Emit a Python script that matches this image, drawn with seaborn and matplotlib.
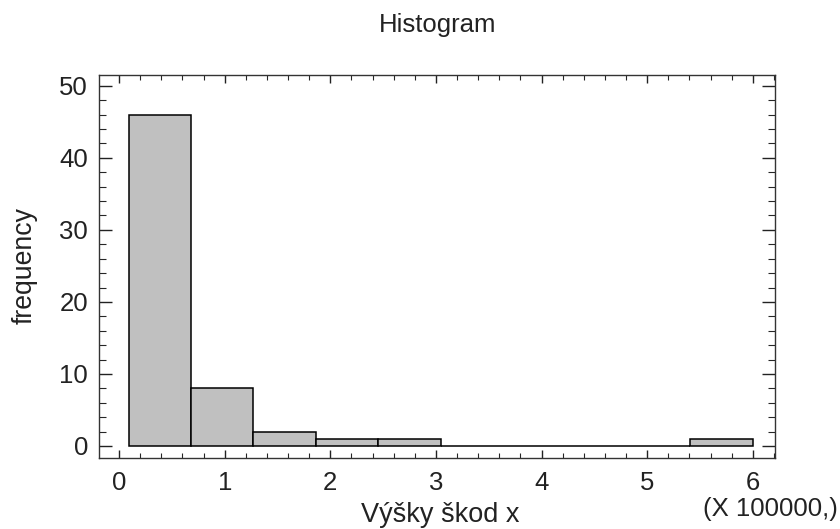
import matplotlib
matplotlib.use("Agg")
import matplotlib.pyplot as plt
from matplotlib.ticker import MultipleLocator
import numpy as np
import seaborn as sns

# Damage amounts, in units of 100000
bin_edges = [0.09, 0.681, 1.272, 1.863, 2.454, 3.045, 3.636, 4.227, 4.818, 5.409, 6.0]
counts = [46, 8, 2, 1, 1, 0, 0, 0, 0, 1]
x_ticks = [0, 1, 2, 3, 4, 5, 6]
y_ticks = [0, 10, 20, 30, 40, 50]

title = "Histogram"
x_label = "Výšky škod x"
y_label = "frequency"
scale_note = "(X 100000,)"

sns.set_theme(style="ticks")
plt.rcParams["font.family"] = ["Liberation Sans", "DejaVu Sans"]

fig = plt.figure(figsize=(8.4, 5.29), dpi=100)
ax = fig.add_axes([0.1179, 0.1342, 0.8047, 0.724])

centers = [(a + b) / 2 for a, b in zip(bin_edges[:-1], bin_edges[1:])]
sns.histplot(x=centers, weights=counts, bins=bin_edges, ax=ax,
             color="#c0c0c0", edgecolor="black", linewidth=1.1, alpha=1.0)

ax.set_xlim(-0.19, 6.21)
ax.set_ylim(-1.67, 51.5)
ax.set_xticks(x_ticks)
ax.set_yticks(y_ticks)
ax.xaxis.set_minor_locator(MultipleLocator(0.2))
ax.yaxis.set_minor_locator(MultipleLocator(2))

ax.tick_params(axis="x", which="major", direction="in", length=6, width=1,
               top=True, bottom=True, labelsize=18.5, pad=9, colors="#222222")
ax.tick_params(axis="x", which="minor", direction="in", length=3.6, width=0.8,
               top=True, bottom=True)
ax.tick_params(axis="y", which="major", direction="in", length=9.5, width=1,
               left=True, right=True, labelsize=18.5, pad=8, colors="#222222")
ax.tick_params(axis="y", which="minor", direction="in", length=5, width=0.8,
               left=True, right=True)

for side in ax.spines.values():
    side.set_visible(True)
    side.set_linewidth(1.0)
    side.set_color("#333333")

ax.set_xlabel("")
ax.set_ylabel("")
fig.text(0.524, 0.0265, x_label, ha="center", va="center", fontsize=19.5, color="#222222")
fig.text(0.0298, 0.499, y_label, ha="center", va="center", rotation=90,
         fontsize=19.2, color="#222222")
fig.text(0.521, 0.953, title, ha="center", va="center", fontsize=18.5, color="#222222")
fig.text(0.998, 0.037, scale_note, ha="right", va="center", fontsize=18.5, color="#222222")

fig.savefig("out.png", dpi=100, facecolor="white")
